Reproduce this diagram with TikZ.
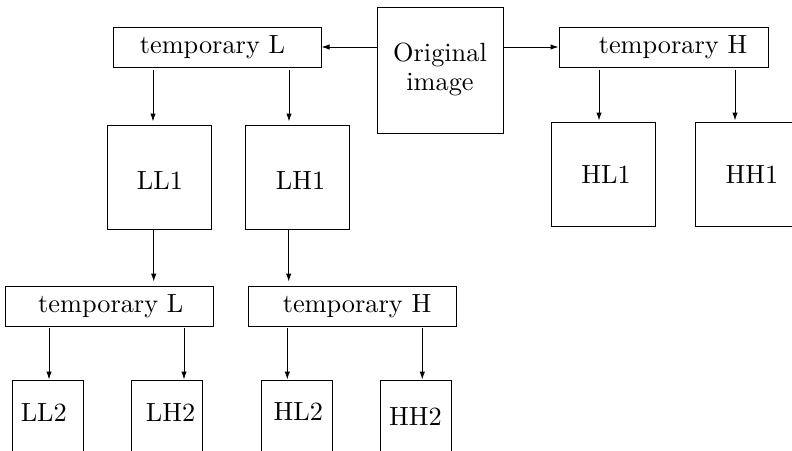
\documentclass[tikz,border=0pt]{standalone}
\usepackage{graphicx}
\usetikzlibrary{arrows.meta}
\newcommand{\bigtxt}[1]{\scalebox{2.63}{#1}}
\begin{document}
\begin{tikzpicture}[x=1pt,y=-1pt,
  box/.style={draw, line width=1pt, inner sep=0pt},
  lab/.style={inner sep=0pt},
  arr/.style={-{Latex[length=8pt,width=5.5pt]}, line width=1pt}]
\useasboundingbox (0,0) rectangle (792,450);
\clip (0,0) rectangle (792,450);
% top row
\node[box, minimum width=126pt, minimum height=126pt] (orig) at (440,70) {\bigtxt{\begin{tabular}{@{}c@{}}Original\\[-1pt]image\end{tabular}}};
\node[box, minimum width=208pt, minimum height=40pt, label={[lab,xshift=-4.5pt]center:\bigtxt{temporary L}}] (tL) at (217,47) {};
\node[box, minimum width=209pt, minimum height=40pt, label={[lab,xshift=9.5pt]center:\bigtxt{temporary H}}] (tH) at (663.5,47) {};
% second row
\node[box, minimum width=104pt, minimum height=104pt, label={[lab,xshift=1pt,yshift=-3.5pt]center:\bigtxt{LL1}}] (LL1) at (159,177) {};
\node[box, minimum width=104pt, minimum height=104pt, label={[lab,xshift=3.5pt,yshift=-3.5pt]center:\bigtxt{LH1}}] (LH1) at (297,177) {};
\node[box, minimum width=104pt, minimum height=104pt, label={[lab,xshift=3pt,yshift=-1pt]center:\bigtxt{HL1}}] (HL1) at (603,174) {};
\node[box, minimum width=104pt, minimum height=104pt, label={[lab,xshift=5pt,yshift=-1pt]center:\bigtxt{HH1}}] (HH1) at (747,174) {};
% third row
\node[box, minimum width=208pt, minimum height=40pt, label={[lab,xshift=1.8pt]center:\bigtxt{temporary L}}] (bL) at (109,306) {};
\node[box, minimum width=208pt, minimum height=40pt, label={[lab,xshift=5pt]center:\bigtxt{temporary H}}] (bH) at (352,306) {};
% bottom row (cut by the lower edge)
\node[box, minimum width=71pt, minimum height=100pt, label={[lab,xshift=-4pt,yshift=17pt]center:\bigtxt{LL2}}] (LL2) at (47.8,430) {};
\node[box, minimum width=71pt, minimum height=100pt, label={[lab,xshift=3.3pt,yshift=17pt]center:\bigtxt{LH2}}] (LH2) at (167.2,430) {};
\node[box, minimum width=71pt, minimum height=100pt, label={[lab,xshift=1.5pt,yshift=18pt]center:\bigtxt{HL2}}] (HL2) at (296.8,430) {};
\node[box, minimum width=71pt, minimum height=100pt, label={[lab,xshift=-0.7pt,yshift=13pt]center:\bigtxt{HH2}}] (HH2) at (416.2,430) {};
% connectors
\draw[arr] (orig.west |- tL.east) -- (tL.east);
\draw[arr] (orig.east |- tH.west) -- (tH.west);
\draw[arr, shorten <=2pt, shorten >=3pt] ([xshift=-64pt]tL.south) -- ([xshift=-64pt]tL.south |- LL1.north);
\draw[arr, shorten <=2pt, shorten >=3pt] ([xshift=72pt]tL.south) -- ([xshift=72pt]tL.south |- LH1.north);
\draw[arr, shorten <=2pt, shorten >=1pt] ([xshift=-64.5pt]tH.south) -- ([xshift=-64.5pt]tH.south |- HL1.north);
\draw[arr, shorten <=2pt, shorten >=1pt] ([xshift=71.5pt]tH.south) -- ([xshift=71.5pt]tH.south |- HH1.north);
\draw[arr, shorten >=4pt] ([xshift=-5.3pt]LL1.south) -- ([xshift=-5.3pt]LL1.south |- bL.north);
\draw[arr, shorten >=4pt] ([xshift=-8.3pt]LH1.south) -- ([xshift=-8.3pt]LH1.south |- bH.north);
\draw[arr, shorten <=1pt] ([xshift=-60pt]bL.south) -- ([xshift=-60pt]bL.south |- LL2.north);
\draw[arr, shorten <=1pt] ([xshift=75pt]bL.south) -- ([xshift=75pt]bL.south |- LH2.north);
\draw[arr, shorten <=1pt] ([xshift=-64.7pt]bH.south) -- ([xshift=-64.7pt]bH.south |- HL2.north);
\draw[arr, shorten <=1pt] ([xshift=70.3pt]bH.south) -- ([xshift=70.3pt]bH.south |- HH2.north);
\end{tikzpicture}
\end{document}
